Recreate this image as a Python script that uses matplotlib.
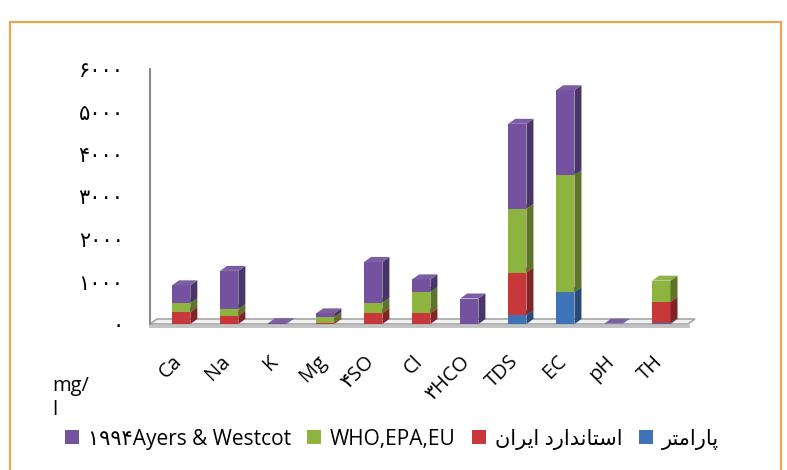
import matplotlib
matplotlib.use("Agg")
import matplotlib.pyplot as plt
from matplotlib.patches import Polygon, Rectangle
from matplotlib.transforms import ScaledTranslation
import matplotlib.colors as mcolors
import numpy as np

categories = ["Ca", "Na", "K", "Mg", "۴SO", "Cl", "۳HCO", "TDS", "EC", "pH", "TH"]
param_vals = [0, 0, 0, 0, 0, 0, 0, 210, 750, 0, 20]          # blue  پارامتر
iran_vals = [280, 190, 0, 30, 250, 250, 0, 1000, 0, 0, 500]    # red   استاندارد ایران
who_vals = [210, 160, 0, 130, 250, 500, 0, 1500, 2750, 0, 500] # green WHO,EPA,EU
ayers_vals = [420, 900, 20, 90, 960, 300, 600, 2000, 2000, 10, 0]  # purple Ayers & Westcot
yticks = [0, 1000, 2000, 3000, 4000, 5000, 6000]
ytick_labels = ["۰", "۱۰۰۰", "۲۰۰۰", "۳۰۰۰", "۴۰۰۰", "۵۰۰۰", "۶۰۰۰"]

# shaped Persian legend texts (presentation forms, visual order)
lbl_param = "\uFEAE\uFE98\uFEE3\uFE8D\uFEAD\uFE8E\uFB58"
lbl_iran = "\uFEE5\uFE8D\uFEAE\uFBFE\uFE8D \uFEA9\uFEAD\uFE8D\uFEAA\uFEE7\uFE8E\uFE98\uFEB3\uFE8D"
series = [
    (param_vals, "#3F73B8", lbl_param),
    (iran_vals, "#C8383A", lbl_iran),
    (who_vals, "#8DB43E", "WHO,EPA,EU"),
    (ayers_vals, "#7452A0", "۱۹۹۴Ayers & Westcot"),
]

plt.rcParams['font.family'] = ['Open Sans', 'DejaVu Sans']

W, H = 787, 470
fig = plt.figure(figsize=(W / 100, H / 100), dpi=100)
fig.patch.set_facecolor("white")
# orange frame
fig.add_artist(Rectangle((10 / W, -0.1), (781 - 10) / W, 1.1 - 22 / H,
                         transform=fig.transFigure, fill=False,
                         edgecolor="#F5A04A", linewidth=1.5))

ax = fig.add_axes([150 / W, (470 - 324) / H, 545 / W, 255 / H])
ax.set_xlim(-0.65, 10.7)
ax.set_ylim(0, 6000)
for s in ["top", "right", "bottom"]:
    ax.spines[s].set_visible(False)
ax.spines["left"].set_color("#8C8C8C")
ax.spines["left"].set_linewidth(1.5)
ax.set_yticks(yticks)
ax.set_yticklabels(ytick_labels, fontsize=15, family=['DejaVu Sans'])
ax.tick_params(axis="y", length=0, pad=19)
x = np.arange(len(categories))
ax.set_xticks(x)
ax.set_xticklabels(categories, rotation=45, ha="right", va="top",
                   rotation_mode="anchor", fontsize=14.5)
ax.tick_params(axis="x", length=0, pad=20)
shift = ScaledTranslation(-9 / 100, 0, fig.dpi_scale_trans)
for lbl in ax.get_xticklabels():
    lbl.set_transform(lbl.get_transform() + shift)

# pixel -> data offsets for the pseudo-3D depth
inv = ax.transData.inverted()
p0 = inv.transform(ax.transData.transform((0, 0)))
p1 = inv.transform(ax.transData.transform((0, 0)) + np.array([7, 5]))
ddx, ddy = p1 - p0

# floor
xl0, xl1 = ax.get_xlim()
floor = Polygon([(xl0, 0), (xl1 - ddx, 0), (xl1, ddy), (xl0 + ddx, ddy)],
                closed=True, facecolor="#F2F2F2", edgecolor="#A6A6A6",
                linewidth=1.2, clip_on=False, zorder=1)
ax.add_patch(floor)
ax.plot([xl0, xl1 - ddx], [-ddy * 0.4, -ddy * 0.4], color="#BFBFBF", lw=2,
        clip_on=False, zorder=1)

w = 0.38
bottom = np.zeros(len(categories))
handles = []
for vals, col, lab in series:
    vals = np.array(vals, dtype=float)
    rgb = np.array(mcolors.to_rgb(col))
    bars = ax.bar(x, vals, w, bottom=bottom, color=col, zorder=3, label=lab,
                  edgecolor="none")
    handles.append(bars)
    side = tuple(rgb * 0.65)
    top = tuple(np.clip(rgb * 0.85 + 0.1, 0, 1))
    for xi, b, v in zip(x, bottom, vals):
        if v <= 0:
            continue
        xr = xi + w / 2
        xlft = xi - w / 2
        ax.add_patch(Polygon([(xr, b), (xr + ddx, b + ddy), (xr + ddx, b + v + ddy), (xr, b + v)],
                             closed=True, facecolor=side, edgecolor="none", zorder=3))
        ax.add_patch(Polygon([(xlft, b + v), (xr, b + v), (xr + ddx, b + v + ddy), (xlft + ddx, b + v + ddy)],
                             closed=True, facecolor=top, edgecolor="none", zorder=3))
    bottom = bottom + vals

fig.text(52 / W, 1 - 386 / H, "mg/", fontsize=14.5, ha="left", va="center")
fig.text(52 / W, 1 - 410 / H, "l", fontsize=14.5, ha="left", va="center")

leg = fig.legend(handles[::-1], [s[2] for s in series[::-1]], loc="center left",
                 bbox_to_anchor=(65 / W, 1 - 439 / H), ncol=4, frameon=False,
                 fontsize=15, handlelength=0.68, handleheight=0.68,
                 handletextpad=0.4, columnspacing=0.8, borderaxespad=0,
                 borderpad=0)

fig.savefig("out.png", dpi=100)
